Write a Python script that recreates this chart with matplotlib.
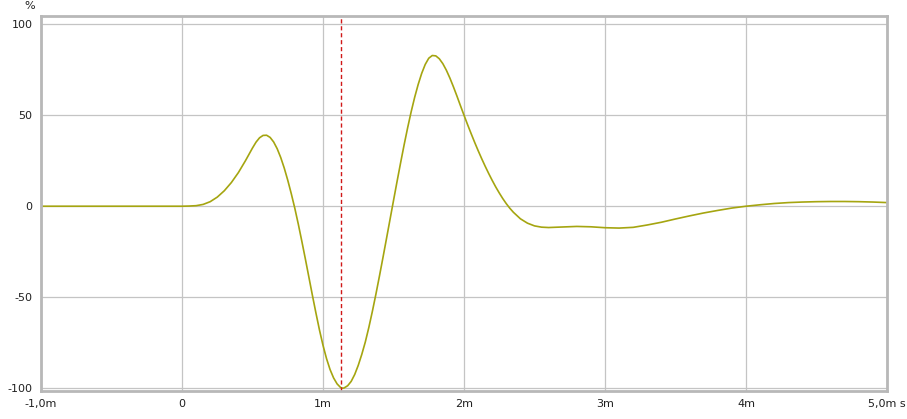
import matplotlib.pyplot as plt
import numpy as np

# impulse response, time in ms, value in %
t_ms = [-1.0, -0.5, 0.0, 0.05, 0.1, 0.15, 0.2, 0.25, 0.3, 0.35, 0.4, 0.45, 0.5,
        0.525, 0.55, 0.575, 0.6, 0.625, 0.65, 0.675, 0.7, 0.725, 0.75, 0.775,
        0.8, 0.825, 0.85, 0.875, 0.9, 0.925, 0.95, 0.975, 1.0, 1.025, 1.05,
        1.075, 1.1, 1.125, 1.14, 1.15, 1.175, 1.2, 1.225, 1.25, 1.275, 1.3,
        1.325, 1.35, 1.375, 1.4, 1.425, 1.45, 1.475, 1.5, 1.525, 1.55, 1.575,
        1.6, 1.625, 1.65, 1.675, 1.7, 1.725, 1.75, 1.775, 1.8, 1.825, 1.85,
        1.875, 1.9, 1.925, 1.95, 1.975, 2.0, 2.025, 2.05, 2.075, 2.1, 2.125,
        2.15, 2.175, 2.2, 2.225, 2.25, 2.275, 2.3, 2.325, 2.35, 2.4, 2.45,
        2.5, 2.55, 2.6, 2.7, 2.8, 2.9, 3.0, 3.1, 3.2, 3.3, 3.4, 3.5, 3.6,
        3.7, 3.8, 3.9, 4.0, 4.1, 4.2, 4.3, 4.4, 4.5, 4.6, 4.7, 4.8, 4.9, 5.0]
level = [0, 0, 0, 0.1, 0.3, 1.0, 2.5, 5.0, 8.5, 13, 18.5, 25, 32,
         35.2, 37.6, 38.9, 39.0, 37.8, 35.3, 31.6, 26.8, 21.0, 14.3, 6.9,
         -1.1, -9.9, -19.3, -29.0, -39.0, -49.0, -58.7, -68.0, -76.4, -83.7, -89.7,
         -94.3, -97.6, -99.6, -100, -99.8, -98.6, -96.2, -92.4, -87.4, -81.4, -74.6,
         -66.6, -57.8, -48.4, -38.5, -28.3, -17.9, -7.4, 3.1, 13.5, 23.7, 33.6,
         43.0, 51.8, 59.8, 66.9, 73.0, 77.9, 81.3, 82.8, 82.6, 81.0, 78.3,
         74.7, 70.4, 65.6, 60.5, 55.2, 50.0, 44.9, 40.0, 35.2, 30.6, 26.2,
         22.0, 18.0, 14.2, 10.6, 7.3, 4.2, 1.4, -1.1, -3.3, -6.9, -9.3,
         -10.8, -11.5, -11.7, -11.4, -11.1, -11.3, -11.8, -12.0, -11.6, -10.3, -8.8, -7.0, -5.3,
         -3.7, -2.3, -1.0, 0, 0.8, 1.5, 2.0, 2.3, 2.5, 2.6, 2.6, 2.5, 2.3, 2.0]

cursor_ms = 1.13

x_ticks = [-1, 0, 1, 2, 3, 4, 5]
x_labels = ['-1,0m', '0', '1m', '2m', '3m', '4m', '5,0m s']
y_ticks = [-100, -50, 0, 50, 100]
y_labels = ['-100', '-50', '0', '50', '100']

fig = plt.figure(figsize=(9.07, 4.19), dpi=100)
ax = fig.add_axes([41/907, 1 - 391/419, 846/907, 375/419])

ax.plot(t_ms, level, color='#a5a510', lw=1.2)
ax.axvline(cursor_ms, color='#d01818', lw=1, ls=(0, (3, 2)))

ax.set_xlim(-1, 5)
ax.set_ylim(-101.5, 104.5)
ax.set_xticks(x_ticks)
ax.set_xticklabels(x_labels)
ax.set_yticks(y_ticks)
ax.set_yticklabels(y_labels)
ax.grid(True, color='#c4c4c4', lw=0.9)
ax.tick_params(length=0, labelsize=8, pad=6, colors='#202020')

for s in ax.spines.values():
    s.set_color('#b8b8b8')
    s.set_linewidth(2)

fig.text(30/907, 1 - 6/419, '%', fontsize=8, ha='center', va='center', color='#202020')

fig.savefig('out.png', dpi=100)
